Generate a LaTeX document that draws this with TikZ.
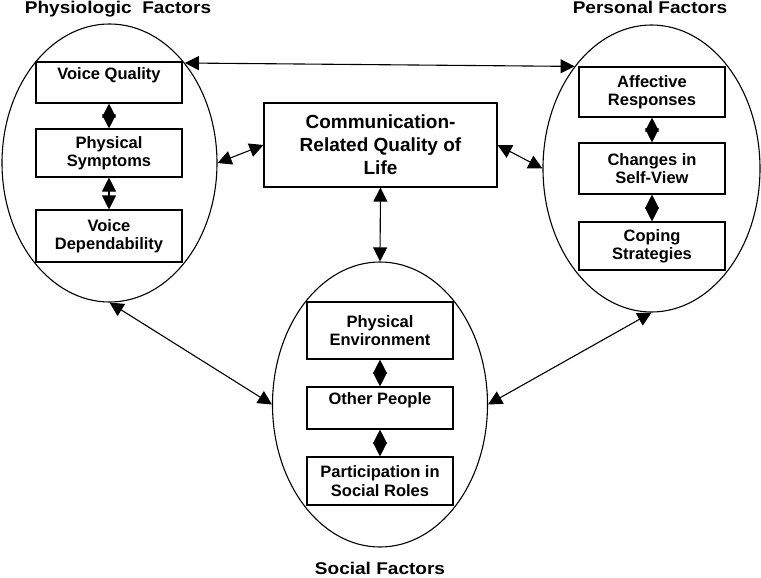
\documentclass[tikz,border=0pt]{standalone}
\usepackage{fontspec}
\setmainfont{Liberation Sans}
\newfontfamily\titlefont{Liberation Sans}[FakeStretch=1.12]
\usetikzlibrary{arrows.meta,shapes.geometric}
\begin{document}
\begin{tikzpicture}[x=1pt, y=-1pt,
		factor/.style={ellipse, draw, line width=1.1pt, inner sep=0pt},
		item/.style={draw, line width=1.1pt, minimum width=146pt, inner sep=0pt, align=center,
			font=\fontsize{16.5}{18.3}\selectfont\bfseries},
		title/.style={anchor=base, font=\titlefont\fontsize{17}{20}\selectfont\bfseries},
		link/.style={<->, >={Triangle[length=14pt,width=14pt]}, line width=1.1pt}
		]
	\useasboundingbox (0,0) rectangle (761,578);
	\node [factor, minimum width=215pt, minimum height=278pt] (phys) at (109.5,163) {};
	\node [factor, minimum width=217pt, minimum height=287pt] (pers) at (651.5,168.5) {};
	\node [factor, minimum width=215pt, minimum height=285pt] (soc) at (380,404.5) {};

	\node [title] (physT) at (118,13.5) {Physiologic\ \ Factors};
	\node [title] (persT) at (650,14) {Personal Factors};
	\node [title] (socT) at (380,574) {Social Factors};

	\node [draw, line width=1.1pt, minimum width=233pt, minimum height=84pt, align=center,
		font=\fontsize{19}{23}\selectfont\bfseries] (crql) at (380.5,145)
		{Communication-\\Related Quality of\\Life};

	\node [item, minimum height=41pt] (vq) at (109,82.5) {Voice Quality\\ \mbox{}};
	\node [item, minimum height=48pt] (ps) at (109,153) {Physical\\Symptoms};
	\node [item, minimum height=52pt] (vd) at (109,236) {Voice\\Dependability};
	\node [item, minimum height=50pt] (ar) at (652,92) {Affective\\Responses};
	\node [item, minimum height=51pt] (sv) at (652,168.5) {Changes in\\Self-View};
	\node [item, minimum height=48pt] (cs) at (652,246) {Coping\\Strategies};
	\node [item, minimum height=57pt] (pe) at (380,330.5) {Physical\\Environment};
	\node [item, minimum height=42pt] (op) at (380,408) {Other People\\ \mbox{}};
	\node [item, minimum height=48pt] (sr) at (380,481) {Participation in\\Social Roles};

	\draw [link] (vq) -- (ps);
	\draw [link] (ps) -- (vd);
	\draw [link] (ar) -- (sv);
	\draw [link] (sv) -- (cs);
	\draw [link] (pe) -- (op);
	\draw [link] (op) -- (sr);
	\draw [link] (phys.53) -- (pers.127);
	\draw [link] (phys.east) -- (crql.west);
	\draw [link] (crql.east) -- (pers.west);
	\draw [link] (crql.south) -- (soc.north);
	\draw [link] (phys.south) -- (soc.west);
	\draw [link] (soc.east) -- (pers.south);
\end{tikzpicture}
\end{document}
